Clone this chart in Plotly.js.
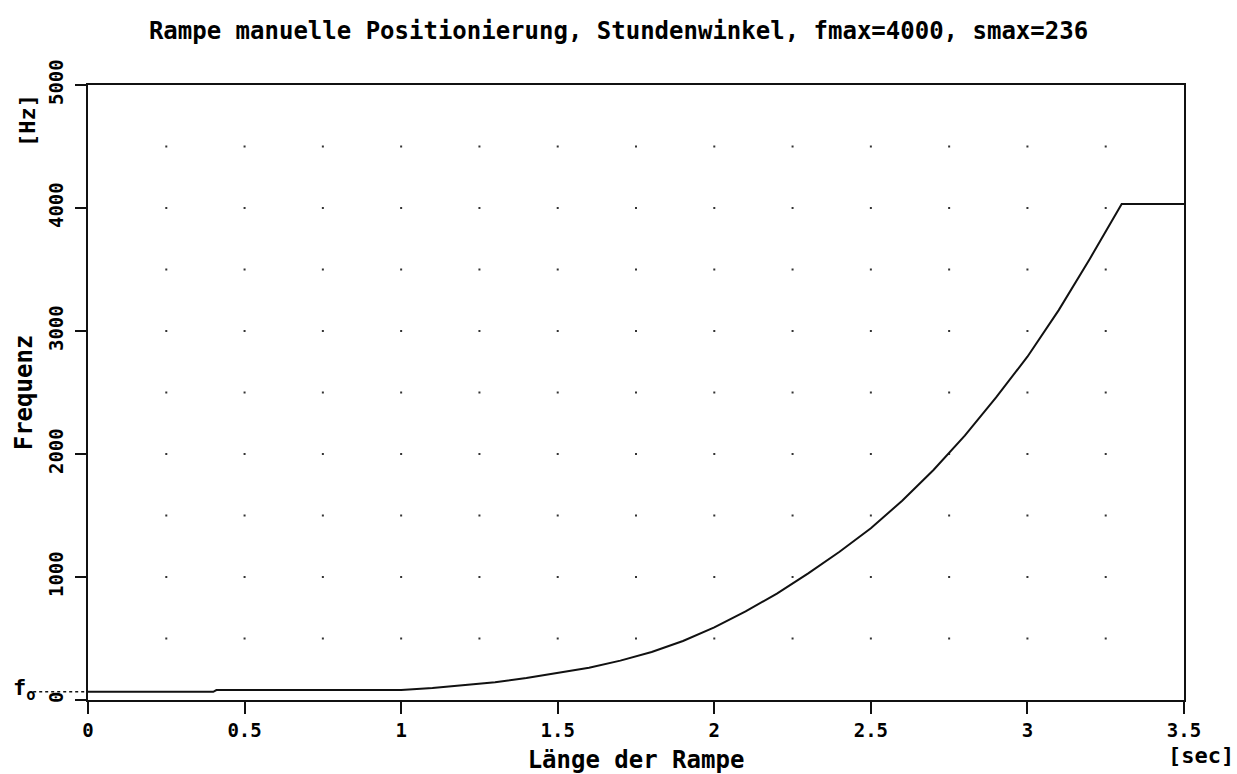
<!DOCTYPE html>
<html>
<head>
<meta charset="utf-8">
<script src="https://cdn.plot.ly/plotly-3.0.1.min.js"></script>
<style>html,body{margin:0;padding:0;background:#fff;}#chart{width:1237px;height:774px;}</style>
</head>
<body>
<div id="chart"></div>
<script>
// Ramp: time [sec] vs frequency [Hz]
const timeSec = [0, 0.4, 0.41, 1.0, 1.1, 1.2, 1.3, 1.4, 1.5, 1.6, 1.7, 1.8, 1.9, 2.0, 2.1, 2.2, 2.3, 2.4, 2.5, 2.6, 2.7, 2.8, 2.9, 3.0, 3.1, 3.2, 3.301, 3.5];
const freqHz = [67, 67, 81, 81, 98, 120, 145, 178, 217, 262, 320, 390, 480, 590, 720, 865, 1030, 1205, 1396, 1620, 1870, 2150, 2460, 2791, 3170, 3590, 4033, 4033];

const xTickVals = [0, 0.5, 1, 1.5, 2, 2.5, 3, 3.5];
const xTickText = ["0", "0.5", "1", "1.5", "2", "2.5", "3", "3.5"];
const yTickVals = [0, 1000, 2000, 3000, 4000, 5000];
const yTickText = ["0", "1000", "2000", "3000", "4000", "5000"];
const gridStepX = 0.25;
const gridStepY = 500;

const titleText = "Rampe manuelle Positionierung, Stundenwinkel, fmax=4000, smax=236";
const xTitle = "Länge der Rampe";
const yTitle = "Frequenz";
const xUnit = "[sec]";
const yUnit = "[Hz]";
const f0Label = "f<sub>o</sub>";

const xMax = xTickVals[xTickVals.length - 1];
const yMax = yTickVals[yTickVals.length - 1];

// dotted grid at intersections of the quarter-second / 500 Hz grid
const gx = [], gy = [];
for (let i = 1; i * gridStepX < xMax - 1e-9; i++) {
  for (let j = 1; j * gridStepY < yMax - 1e-9; j++) {
    gx.push(i * gridStepX);
    gy.push(j * gridStepY);
  }
}

const mono = "DejaVu Sans Mono, monospace";
const f0 = freqHz[0];

const traces = [
  {
    x: gx, y: gy, type: "scatter", mode: "markers",
    marker: {symbol: "square", size: 2, color: "#333", line: {width: 0}},
    hoverinfo: "skip", showlegend: false
  },
  {
    x: timeSec, y: freqHz, type: "scatter", mode: "lines",
    line: {color: "#111", width: 2}, showlegend: false
  }
];

const layout = {
  width: 1237, height: 774,
  margin: {l: 88, r: 53, t: 85, b: 74},
  paper_bgcolor: "#fff", plot_bgcolor: "#fff",
  showlegend: false,
  title: {
    text: titleText, x: 0.5, xref: "container", y: 0.961, yanchor: "middle",
    font: {family: mono, size: 24, color: "#000", weight: "bold"}
  },
  xaxis: {
    range: [0, xMax], tickmode: "array", tickvals: xTickVals, ticktext: xTickText,
    showline: true, linecolor: "#111", linewidth: 2, mirror: true,
    ticks: "outside", ticklen: 12, tickwidth: 2, tickcolor: "#111",
    showgrid: false, zeroline: false,
    tickfont: {family: mono, size: 19, color: "#000", weight: "bold"},
    title: {text: xTitle, standoff: 13, font: {family: mono, size: 24, color: "#000", weight: "bold"}}
  },
  yaxis: {
    range: [0, yMax], tickmode: "array", tickvals: yTickVals, ticktext: yTickText,
    showline: true, linecolor: "#111", linewidth: 2, mirror: true,
    ticks: "outside", ticklen: 11, tickwidth: 2, tickcolor: "#111",
    tickangle: -90, ticklabelstandoff: 4,
    showgrid: false, zeroline: false,
    tickfont: {family: mono, size: 19, color: "#000", weight: "bold"},
    title: {text: yTitle, standoff: 6, font: {family: mono, size: 24, color: "#000", weight: "bold"}}
  },
  shapes: [
    {type: "line", xref: "paper", yref: "y", x0: -0.05, x1: 0, y0: f0, y1: f0,
     line: {color: "#111", width: 1.5, dash: "dot"}}
  ],
  annotations: [
    {text: xUnit, xref: "paper", yref: "paper", x: 1.047, y: -0.09, xanchor: "right", yanchor: "middle",
     showarrow: false, font: {family: mono, size: 22, color: "#000", weight: "bold"}},
    {text: yUnit, xref: "paper", yref: "paper", x: -0.0557, y: 0.943, xanchor: "center", yanchor: "middle",
     textangle: -90, showarrow: false, font: {family: mono, size: 22, color: "#000", weight: "bold"}},
    {text: f0Label, xref: "paper", yref: "y", x: -0.046, y: f0, xanchor: "right", yanchor: "middle",
     yshift: 2, showarrow: false, font: {family: mono, size: 22, color: "#000", weight: "bold"}}
  ]
};

Plotly.newPlot("chart", traces, layout, {displayModeBar: false, staticPlot: true});
</script>
</body>
</html>
